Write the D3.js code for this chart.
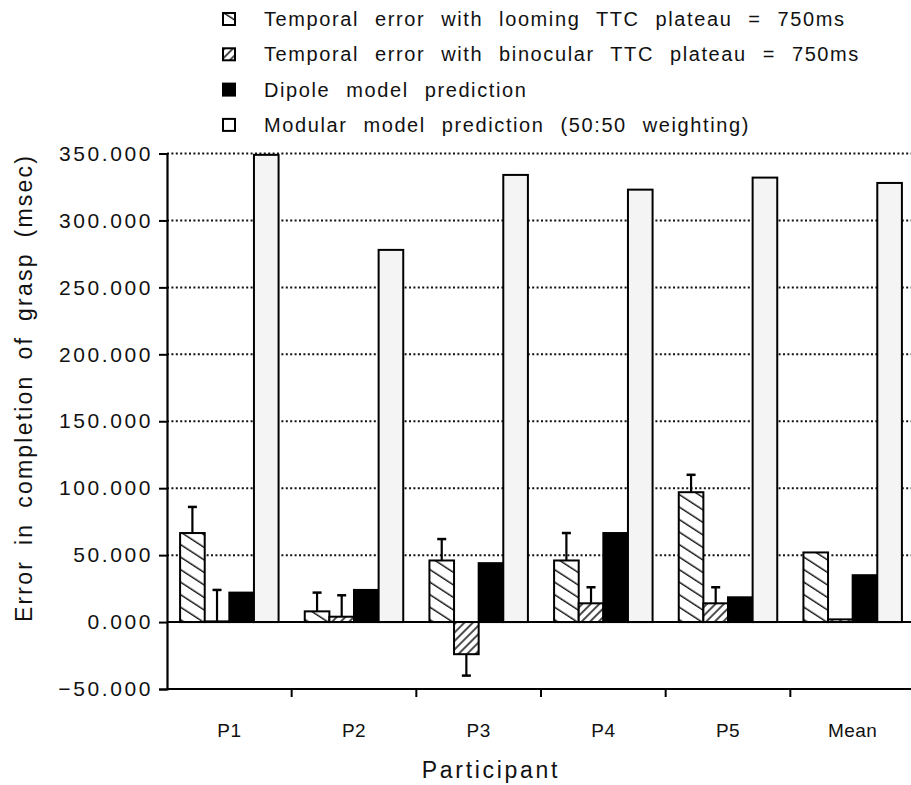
<!DOCTYPE html>
<html>
<head>
<meta charset="utf-8">
<script src="https://cdn.jsdelivr.net/npm/d3@7"></script>
<style>
  body { margin: 0; background: #fff; }
  svg { display: block; font-family: "Liberation Sans", Arial, sans-serif; }
</style>
</head>
<body>
<div id="chart"></div>
<script>
// values (msec)
const participants = ["P1", "P2", "P3", "P4", "P5", "Mean"];
const seriesKeys = ["looming", "binocular", "dipole", "modular"];
const seriesLabels = [
  "Temporal error with looming TTC plateau = 750ms",
  "Temporal error with binocular TTC plateau = 750ms",
  "Dipole model prediction",
  "Modular model prediction (50:50 weighting)"
];
const looming = [66.5, 8, 46, 46, 97, 52];
const loomingErr = [19.5, 14, 16, 20.5, 13, 0];
const binocular = [0.5, 4, -24, 14, 14, 2];
const binocularErr = [23.5, 16, 16, 12, 12, 0];
const dipole = [22, 24, 44, 66.5, 18.5, 35];
const modular = [349, 278, 334, 323, 332, 328];
const yTicks = [-50, 0, 50, 100, 150, 200, 250, 300, 350];

const width = 911, height = 785;
const plotLeft = 167, plotRight = 915, plotTop = 153.5, plotBottom = 689;

const svg = d3.select("#chart").append("svg")
  .attr("width", width)
  .attr("height", height);

const defs = svg.append("defs");

// sparse "\" hatch
const p1 = defs.append("pattern")
  .attr("id", "hatchLoom")
  .attr("patternUnits", "userSpaceOnUse")
  .attr("width", 40).attr("height", 10.5)
  .attr("patternTransform", "rotate(33)");
p1.append("rect").attr("width", 40).attr("height", 10.5).attr("fill", "#fff");
p1.append("line").attr("x1", 0).attr("x2", 40).attr("y1", 5).attr("y2", 5)
  .attr("stroke", "#111").attr("stroke-width", 1.6);

// dense "/" hatch
const p2 = defs.append("pattern")
  .attr("id", "hatchBino")
  .attr("patternUnits", "userSpaceOnUse")
  .attr("width", 40).attr("height", 6)
  .attr("patternTransform", "rotate(-45)");
p2.append("rect").attr("width", 40).attr("height", 6).attr("fill", "#fff");
p2.append("line").attr("x1", 0).attr("x2", 40).attr("y1", 3).attr("y2", 3)
  .attr("stroke", "#111").attr("stroke-width", 1.5);

const fills = {
  looming: "url(#hatchLoom)",
  binocular: "url(#hatchBino)",
  dipole: "#000",
  modular: "#f4f4f4"
};

const y = d3.scaleLinear().domain([-50, 350]).range([plotBottom, plotTop]);
const x0 = d3.scaleBand().domain(participants).range([plotLeft, plotRight])
  .paddingInner(0.21).paddingOuter(0.105);
const x1 = d3.scaleBand().domain(seriesKeys).range([0, x0.bandwidth()]);

const rows = participants.map((p, i) => ({
  name: p,
  values: [
    { key: "looming", v: looming[i], err: loomingErr[i] },
    { key: "binocular", v: binocular[i], err: binocularErr[i] },
    { key: "dipole", v: dipole[i], err: 0 },
    { key: "modular", v: modular[i], err: 0 }
  ]
}));

// dotted grid
svg.append("g").selectAll("line")
  .data(yTicks.filter(t => t > 0))
  .join("line")
  .attr("x1", plotLeft).attr("x2", width)
  .attr("y1", d => y(d)).attr("y2", d => y(d))
  .attr("stroke", "#111").attr("stroke-width", 2)
  .attr("stroke-dasharray", "2,2.4");

// bars
const groups = svg.append("g").selectAll("g")
  .data(rows)
  .join("g")
  .attr("transform", d => `translate(${x0(d.name)},0)`);

groups.selectAll("rect")
  .data(d => d.values)
  .join("rect")
  .attr("x", d => x1(d.key))
  .attr("width", x1.bandwidth())
  .attr("y", d => y(Math.max(0, d.v)))
  .attr("height", d => Math.abs(y(d.v) - y(0)))
  .attr("fill", d => fills[d.key])
  .attr("stroke", "#000")
  .attr("stroke-width", 2);

// zero line
svg.append("line")
  .attr("x1", plotLeft).attr("x2", width)
  .attr("y1", y(0)).attr("y2", y(0))
  .attr("stroke", "#000").attr("stroke-width", 2);

// one-sided error bars
const errs = groups.selectAll("g.err")
  .data(d => d.values.filter(v => v.err > 0))
  .join("g")
  .attr("class", "err");
const end = d => y(d.v + (d.v < 0 ? -d.err : d.err));
errs.append("line")
  .attr("x1", d => x1(d.key) + x1.bandwidth() / 2)
  .attr("x2", d => x1(d.key) + x1.bandwidth() / 2)
  .attr("y1", d => y(d.v)).attr("y2", end)
  .attr("stroke", "#000").attr("stroke-width", 2.2);
errs.append("line")
  .attr("x1", d => x1(d.key) + x1.bandwidth() / 2 - 4.5)
  .attr("x2", d => x1(d.key) + x1.bandwidth() / 2 + 4.5)
  .attr("y1", end).attr("y2", end)
  .attr("stroke", "#000").attr("stroke-width", 2.5);

// y axis
const yAxis = svg.append("g")
  .attr("transform", `translate(${plotLeft},0)`)
  .call(d3.axisLeft(y).tickValues(yTicks).tickSize(8).tickPadding(6)
    .tickFormat(d3.format(".3f")));
yAxis.select(".domain").attr("stroke", "#000").attr("stroke-width", 2.2);
yAxis.selectAll(".tick line").attr("stroke", "#000").attr("stroke-width", 2);
yAxis.selectAll("text")
  .attr("font-size", 21).attr("letter-spacing", 2.6).attr("fill", "#111")
  .attr("font-family", "Liberation Sans, Arial, sans-serif");

// x axis at -50
svg.append("line")
  .attr("x1", plotLeft).attr("x2", width)
  .attr("y1", plotBottom).attr("y2", plotBottom)
  .attr("stroke", "#000").attr("stroke-width", 2.2);
svg.append("g").selectAll("line")
  .data(d3.range(1, participants.length))
  .join("line")
  .attr("x1", i => plotLeft + i * x0.step())
  .attr("x2", i => plotLeft + i * x0.step())
  .attr("y1", plotBottom).attr("y2", plotBottom + 8)
  .attr("stroke", "#000").attr("stroke-width", 2);
svg.append("g").selectAll("text")
  .data(participants)
  .join("text")
  .attr("x", d => x0(d) + x0.bandwidth() / 2)
  .attr("y", 737)
  .attr("text-anchor", "middle")
  .attr("font-size", 19)
  .attr("letter-spacing", 0.5)
  .attr("fill", "#111")
  .text(d => d);

// axis titles
svg.append("text")
  .attr("x", 491).attr("y", 778)
  .attr("text-anchor", "middle")
  .attr("font-size", 23).attr("letter-spacing", 2.7)
  .attr("fill", "#111")
  .text("Participant");
svg.append("text")
  .attr("transform", "translate(32,388) rotate(-90)")
  .attr("text-anchor", "middle")
  .attr("font-size", 23).attr("letter-spacing", 2.2).attr("word-spacing", 6.4)
  .attr("fill", "#111")
  .text("Error in completion of grasp (msec)");

// legend
const legend = svg.append("g").selectAll("g")
  .data(seriesKeys)
  .join("g")
  .attr("transform", (d, i) => `translate(223,${19 + i * 35.3})`);
legend.append("rect")
  .attr("x", 0).attr("y", -6).attr("width", 12).attr("height", 12)
  .attr("fill", d => d === "modular" ? "#fff" : fills[d])
  .attr("stroke", "#000").attr("stroke-width", 2);
legend.append("text")
  .attr("x", 41).attr("y", 7)
  .attr("font-size", 20).attr("letter-spacing", 1.6).attr("word-spacing", 8.8)
  .attr("fill", "#111")
  .text((d, i) => seriesLabels[i]);
</script>
</body>
</html>
